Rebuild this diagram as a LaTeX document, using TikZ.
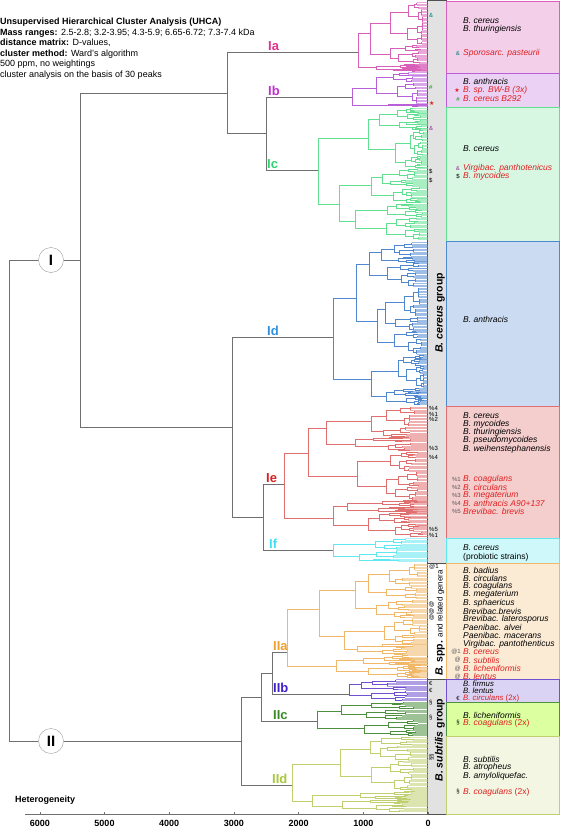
\documentclass[tikz,border=0pt]{standalone}
\usepackage{fontspec}
\setmainfont{Liberation Sans}
\newfontfamily\symfont{DejaVu Sans}
\usetikzlibrary{positioning}

\definecolor{trunkgray}{HTML}{707070}
\definecolor{bandgray}{HTML}{E2E2E2}
\definecolor{bandline}{HTML}{505050}
\definecolor{textred}{HTML}{E02020}
\definecolor{lnIa}{HTML}{D860B8}  \definecolor{lbIa}{HTML}{E03090}
\definecolor{lnIb}{HTML}{B860D8}  \definecolor{lbIb}{HTML}{C030D0}
\definecolor{lnIc}{HTML}{60E090}  \definecolor{lbIc}{HTML}{30D070}
\definecolor{lnId}{HTML}{5088D0}  \definecolor{lbId}{HTML}{3090E0}
\definecolor{lnIe}{HTML}{E07070}  \definecolor{lbIe}{HTML}{D82020}
\definecolor{lnIf}{HTML}{60E8F0}  \definecolor{lbIf}{HTML}{40E0F0}
\definecolor{lnIIa}{HTML}{F0B868} \definecolor{lbIIa}{HTML}{F0A030}
\definecolor{lnIIb}{HTML}{7050D0} \definecolor{lbIIb}{HTML}{4020C8}
\definecolor{lnIIc}{HTML}{4C9040} \definecolor{lbIIc}{HTML}{3A8A2A}
\definecolor{lnIId}{HTML}{C0D070} \definecolor{lbIId}{HTML}{A8C838}
\definecolor{fillIIc}{HTML}{DCFFA0}

\newcommand\spfont{\fontsize{8.5}{9}\selectfont}
\newcommand\smfont{\fontsize{7.8}{8}\selectfont}
\newcommand\mkfont{\fontsize{6}{6}\selectfont}
\newcommand\labfont{\fontsize{13}{15}\selectfont\bfseries}
\newcommand\hdfont{\fontsize{9}{10.5}\selectfont}

% x, top, bottom, depth, style, split
\newcommand\dtree[6]{%
  \begingroup
  \pgfmathsetmacro\dX{#1}\pgfmathsetmacro\dA{#2}\pgfmathsetmacro\dB{#3}%
  \pgfmathtruncatemacro\dN{#4}\pgfmathsetmacro\dR{#6}%
  \ifnum\dN<1
    \pgfmathtruncatemacro\dK{max(0,floor((\dB-\dA)/1.6))}%
    \pgfmathsetmacro\dD{(\dB-\dA)/(\dK+1)}%
    \draw[#5] (\dX,\dA+0.5*\dD) -- (\dX,\dB-0.5*\dD);
    \foreach \i in {0,...,\dK}
      \draw[#5,leaf] (\dX,{\dA+(\i+0.5)*\dD}) -- (428,{\dA+(\i+0.5)*\dD});
  \else
    \pgfmathsetmacro\dS{\dA+\dR*(\dB-\dA)}%
    \pgfmathsetmacro\dYa{(\dA+\dS)/2}\pgfmathsetmacro\dYb{(\dS+\dB)/2}%
    \pgfmathsetmacro\dXa{\dX+(428-\dX)*(0.15+0.35*rnd)}%
    \pgfmathsetmacro\dXb{\dX+(428-\dX)*(0.15+0.35*rnd)}%
    \pgfmathsetmacro\dRa{0.3+0.4*rnd}\pgfmathsetmacro\dRb{0.3+0.4*rnd}%
    \draw[#5] (\dXa,\dYa) -- (\dX,\dYa) -- (\dX,\dYb) -- (\dXb,\dYb);
    \edef\dNext{\noexpand\dtree{\dXa}{\dA}{\dS}{\the\numexpr\dN-1}{#5}{\dRa}%
      \noexpand\dtree{\dXb}{\dS}{\dB}{\the\numexpr\dN-1}{#5}{\dRb}}%
    \dNext
  \fi
  \endgroup}

\begin{document}
\begin{tikzpicture}[x=1pt,y=-1pt,
  trunk/.style={draw=trunkgray,line width=0.8pt},
  leaf/.style={opacity=0.55},
  Ia/.style={draw=lnIa,line width=0.5pt},  Ib/.style={draw=lnIb,line width=0.5pt},
  Ic/.style={draw=lnIc,line width=0.5pt},  Id/.style={draw=lnId,line width=0.5pt},
  Ie/.style={draw=lnIe,line width=0.5pt},  If/.style={draw=lnIf,line width=0.5pt},
  IIa/.style={draw=lnIIa,line width=0.5pt}, IIb/.style={draw=lnIIb,line width=0.5pt},
  IIc/.style={draw=lnIIc,line width=0.5pt}, IId/.style={draw=lnIId,line width=0.5pt},
  box/.style={line width=0.8pt},
  sp/.style={anchor=west,inner sep=0pt,font=\spfont\itshape},
  mk/.style={anchor=east,inner sep=0pt,font=\mkfont},
  bm/.style={anchor=west,inner sep=0pt,font=\mkfont},
  lab/.style={anchor=base west,inner sep=0pt,font=\labfont},
  hd/.style={anchor=base west,inner sep=0pt,font=\hdfont},
  ax/.style={inner sep=0pt,font=\hdfont\bfseries},
  grp/.style={circle,draw=trunkgray!70,fill=white,minimum size=25pt,inner sep=0pt,
    font=\fontsize{15}{15}\selectfont\bfseries}]

 \useasboundingbox (0,0) rectangle (560,829);

 % header
 \node[hd,font=\hdfont\bfseries] (h1) at (0,25) {Unsupervised Hierarchical Cluster Analysis (UHCA)};
 \node[hd] (h2) at (0,35.5) {\textbf{Mass ranges:} 2.5-2.8; 3.2-3.95; 4.3-5.9; 6.65-6.72; 7.3-7.4 kDa};
 \node[hd] (h3) at (0,46) {\textbf{distance matrix:} D-values,};
 \node[hd] (h4) at (0,56.5) {\textbf{cluster method:} Ward's algorithm};
 \node[hd] (h5) at (0,67) {500 ppm, no weightings};
 \node[hd] (h6) at (0,77.5) {cluster analysis on the basis of 30 peaks};

 % band and boxes
 \fill[bandgray] (427,0) rectangle (446,563);
 \fill[bandgray] (427,679) rectangle (446,814);
 \draw[bandline,line width=0.8pt] (427,0) rectangle (446,563) (427,563) rectangle (446,679)
   (427,679) rectangle (446,814);
 \draw[box,fill=lnIa!30,draw=lnIa] (446,1) rectangle (559,73);
 \draw[box,fill=lnIb!28,draw=lnIb] (446,73) rectangle (559,107);
 \draw[box,fill=lnIc!25,draw=lnIc] (446,107) rectangle (559,241);
 \draw[box,fill=lnId!30,draw=lnId] (446,241) rectangle (559,406);
 \draw[box,fill=lnIe!35,draw=lnIe] (446,406) rectangle (559,538);
 \draw[box,fill=lnIf!30,draw=lnIf] (446,538) rectangle (559,563);
 \draw[box,fill=lnIIa!28,draw=lnIIa] (446,563) rectangle (559,679);
 \draw[box,fill=lnIIb!25,draw=lnIIb] (446,679) rectangle (559,702);
 \draw[box,fill=fillIIc,draw=lnIIc] (446,702) rectangle (559,736);
 \draw[box,fill=lnIId!20,draw=lnIId] (446,736) rectangle (559,814);

 \node[rotate=90,inner sep=0pt,font=\fontsize{10.5}{12}\selectfont\bfseries] (bcg) at (440,313)
   {\textit{B. cereus} group};
 \node[rotate=90,inner sep=0pt] (bspp) at (440,623)
   {{\fontsize{10.5}{12}\selectfont\bfseries\textit{B.} spp.} {\fontsize{8}{10}\selectfont and related genera}};
 \node[rotate=90,inner sep=0pt,font=\fontsize{10.5}{12}\selectfont\bfseries] (bsg) at (440,740)
   {\textit{B. subtilis} group};

 % dendrogram trunk
 \node[grp] (nI) at (51,260) {I};
 \node[grp] (nII) at (51,741) {II};
 \draw[trunk] (nI) -- (9,260) -- (9,741) -- (nII);
 \draw[trunk] (nI) -- (80,260);
 \draw[trunk] (nII) -- (241,741);
 \draw[trunk] (227,93) -- (80,93) -- (80,427) -- (232,427);
 \draw[trunk] (358,52) -- (227,52) -- (227,133) -- (266,133);
 \draw[trunk] (352,97) -- (266,97) -- (266,170) -- (318,170);
 \draw[trunk] (333,337) -- (232,337) -- (232,517) -- (263,517);
 \draw[trunk] (284,484) -- (263,484) -- (263,550) -- (333,550);
 \draw[trunk] (261,697) -- (241,697) -- (241,785) -- (292,785);
 \draw[trunk] (272,673) -- (261,673) -- (261,721) -- (317,721);
 \draw[trunk] (287,652) -- (272,652) -- (272,694) -- (349,694);

 % clusters
 \pgfmathsetseed{3}\dtree{358}{2}{71}{5}{Ia}{0.9}
 \pgfmathsetseed{5}\dtree{352}{72}{106}{4}{Ib}{0.94}
 \pgfmathsetseed{7}\dtree{318}{108}{240}{6}{Ic}{0.455}
 \pgfmathsetseed{9}\dtree{333}{242}{405}{6}{Id}{0.69}
 \pgfmathsetseed{13}\dtree{284}{406}{537}{6}{Ie}{0.72}
 \pgfmathsetseed{17}\dtree{333}{538}{562}{3}{If}{0.5}
 \pgfmathsetseed{19}\dtree{287}{563}{678}{6}{IIa}{0.8}
 \pgfmathsetseed{23}\dtree{349}{679}{701}{3}{IIb}{0.5}
 \pgfmathsetseed{29}\dtree{317}{702}{736}{4}{IIc}{0.53}
 \pgfmathsetseed{31}\dtree{292}{737}{812}{5}{IId}{0.72}

 \node[lab,lbIa] (lIa) at (268,50.5) {Ia};
 \node[lab,lbIb] (lIb) at (268,95.5) {Ib};
 \node[lab,lbIc] (lIc) at (267,168.5) {Ic};
 \node[lab,lbId] (lId) at (267,335.5) {Id};
 \node[lab,lbIe] (lIe) at (266,482.5) {Ie};
 \node[lab,lbIf] (lIf) at (269,548.5) {If};
 \node[lab,lbIIa] (lIIa) at (273,650.5) {IIa};
 \node[lab,lbIIb] (lIIb) at (273,692.5) {IIb};
 \node[lab,lbIIc] (lIIc) at (273,719.5) {IIc};
 \node[lab,lbIId] (lIId) at (272,783.5) {IId};

 % markers in the band
 \node[bm,teal] (m1) at (429,15) {\&};
 \node[bm,green!60!black] (m2) at (429,87) {\#};
 \node[bm,textred,font=\symfont\fontsize{6}{6}\selectfont] (m3) at (429,103) {★};
 \node[bm,violet!80] (m4) at (429,128) {\&};
 \node[bm] (m5) at (429,171) {\$};
 \node[bm] (m6) at (429,180) {\$};
 \node[bm] (m7) at (429,408) {\%4};
 \node[bm] (m8) at (429,414) {\%1};
 \node[bm] (m9) at (429,419) {\%2};
 \node[bm] (m10) at (429,448) {\%3};
 \node[bm] (m11) at (429,457) {\%4};
 \node[bm] (m12) at (429,529) {\%5};
 \node[bm] (m13) at (429,535) {\%1};
 \node[bm] (m14) at (429,566.5) {@1};
 \node[bm,rotate=90,anchor=center] (m15) at (431.5,611) {@@@};
 \node[bm] (m16) at (429,683) {€};
 \node[bm] (m17) at (429,690) {€};
 \node[bm] (m18) at (429,703) {§};
 \node[bm] (m19) at (429,718) {§};
 \node[bm,rotate=90,anchor=center] (m20) at (431.5,757) {§§};

 % box texts
 \node[sp] (tIa1) at (463,21) {B. cereus};
 \node[sp] (tIa2) at (463,29) {B. thuringiensis};
 \node[sp,textred] (tIa3) at (463,53) {Sporosarc. pasteurii};
 \node[mk,teal] at (tIa3.west) [xshift=-3pt] {\&};
 \node[sp] (tIb1) at (463,81) {B. anthracis};
 \node[sp,textred] (tIb2) at (463,90) {B. sp. BW-B (3x)};
 \node[mk,textred,font=\symfont\fontsize{6}{6}\selectfont] at (tIb2.west) [xshift=-3pt] {★};
 \node[sp,textred] (tIb3) at (463,99) {B. cereus B292};
 \node[mk,green!60!black] at (tIb3.west) [xshift=-3pt] {\#};
 \node[sp] (tIc1) at (463,149) {B. cereus};
 \node[sp,textred] (tIc2) at (463,168) {Virgibac. panthotenicus};
 \node[mk,violet!80] at (tIc2.west) [xshift=-3pt] {\&};
 \node[sp,textred] (tIc3) at (463,176) {B. mycoides};
 \node[mk] at (tIc3.west) [xshift=-3pt] {\$};
 \node[sp] (tId1) at (463,319) {B. anthracis};
 \foreach \t [count=\i] in {B. cereus, B. mycoides, B. thuringiensis, B. pseudomycoides,
   B. weihenstephanensis}
   \node[sp] (tIe\i) at (463,{416+(\i-1)*8.2}) {\t};
 \foreach \t [count=\i] in {B. coagulans, B. circulans, B. megaterium, B. anthracis A90+137,
   Brevibac. brevis} {
   \node[sp,textred] (rIe\i) at (463,{479+(\i-1)*8.2}) {\t};
   \node[mk,gray!70!black] at (rIe\i.west) [xshift=-2pt] {\%\i};
 }
 \node[sp] (tIf1) at (463,548) {B. cereus};
 \node[sp,font=\spfont] (tIf2) at (463,557) {(probiotic strains)};
 \foreach \t [count=\i] in {B. badius, B. circulans, B. coagulans, B. megaterium, B. sphaericus,
   Brevibac.brevis, Brevibac. laterosporus, Paenibac. alvei, Paenibac. macerans,
   Virgibac. pantothenticus}
   \node[sp] (tIIa\i) at (463,{570+(\i-1)*8.2}) {\t};
 \foreach \t/\m [count=\i] in {B. cereus/@1, B. subtilis/@, B. licheniformis/@, B. lentus/@} {
   \node[sp,textred] (rIIa\i) at (463,{652+(\i-1)*8.2}) {\t};
   \node[mk,gray!70!black] at (rIIa\i.west) [xshift=-2pt] {\m};
 }
 \node[sp,font=\smfont\itshape] (tIIb1) at (463,683.5) {B. firmus};
 \node[sp,font=\smfont\itshape] (tIIb2) at (463,691) {B. lentus};
 \node[sp,font=\smfont\itshape,textred] (tIIb3) at (463,698.5) {B. circulans \upshape(2x)};
 \node[mk] at (tIIb3.west) [xshift=-3pt] {€};
 \node[sp] (tIIc1) at (463,715) {B. licheniformis};
 \node[sp,textred] (tIIc2) at (463,723) {B. coagulans \upshape(2x)};
 \node[mk] at (tIIc2.west) [xshift=-3pt] {§};
 \node[sp] (tIId1) at (463,759) {B. subtilis};
 \node[sp] (tIId2) at (463,767.5) {B. atropheus};
 \node[sp] (tIId3) at (463,776) {B. amyloliquefac.};
 \node[sp,textred] (tIId4) at (463,792) {B. coagulans \upshape(2x)};
 \node[mk] at (tIId4.west) [xshift=-3pt] {§};

 % axis
 \node[ax,anchor=west] (het) at (15,800) {Heterogeneity};
 \draw[trunk,line width=0.6pt] (25,814) -- (428,814);
 \foreach \k in {0,...,6} {
   \draw[trunk,line width=0.6pt] ({428-64.7*\k},814) -- ({428-64.7*\k},811.5);
   \node[ax] (tick\k) at ({428-64.7*\k},823.5) {\pgfmathparse{int(1000*\k)}\pgfmathresult};
 }
\end{tikzpicture}
\end{document}
